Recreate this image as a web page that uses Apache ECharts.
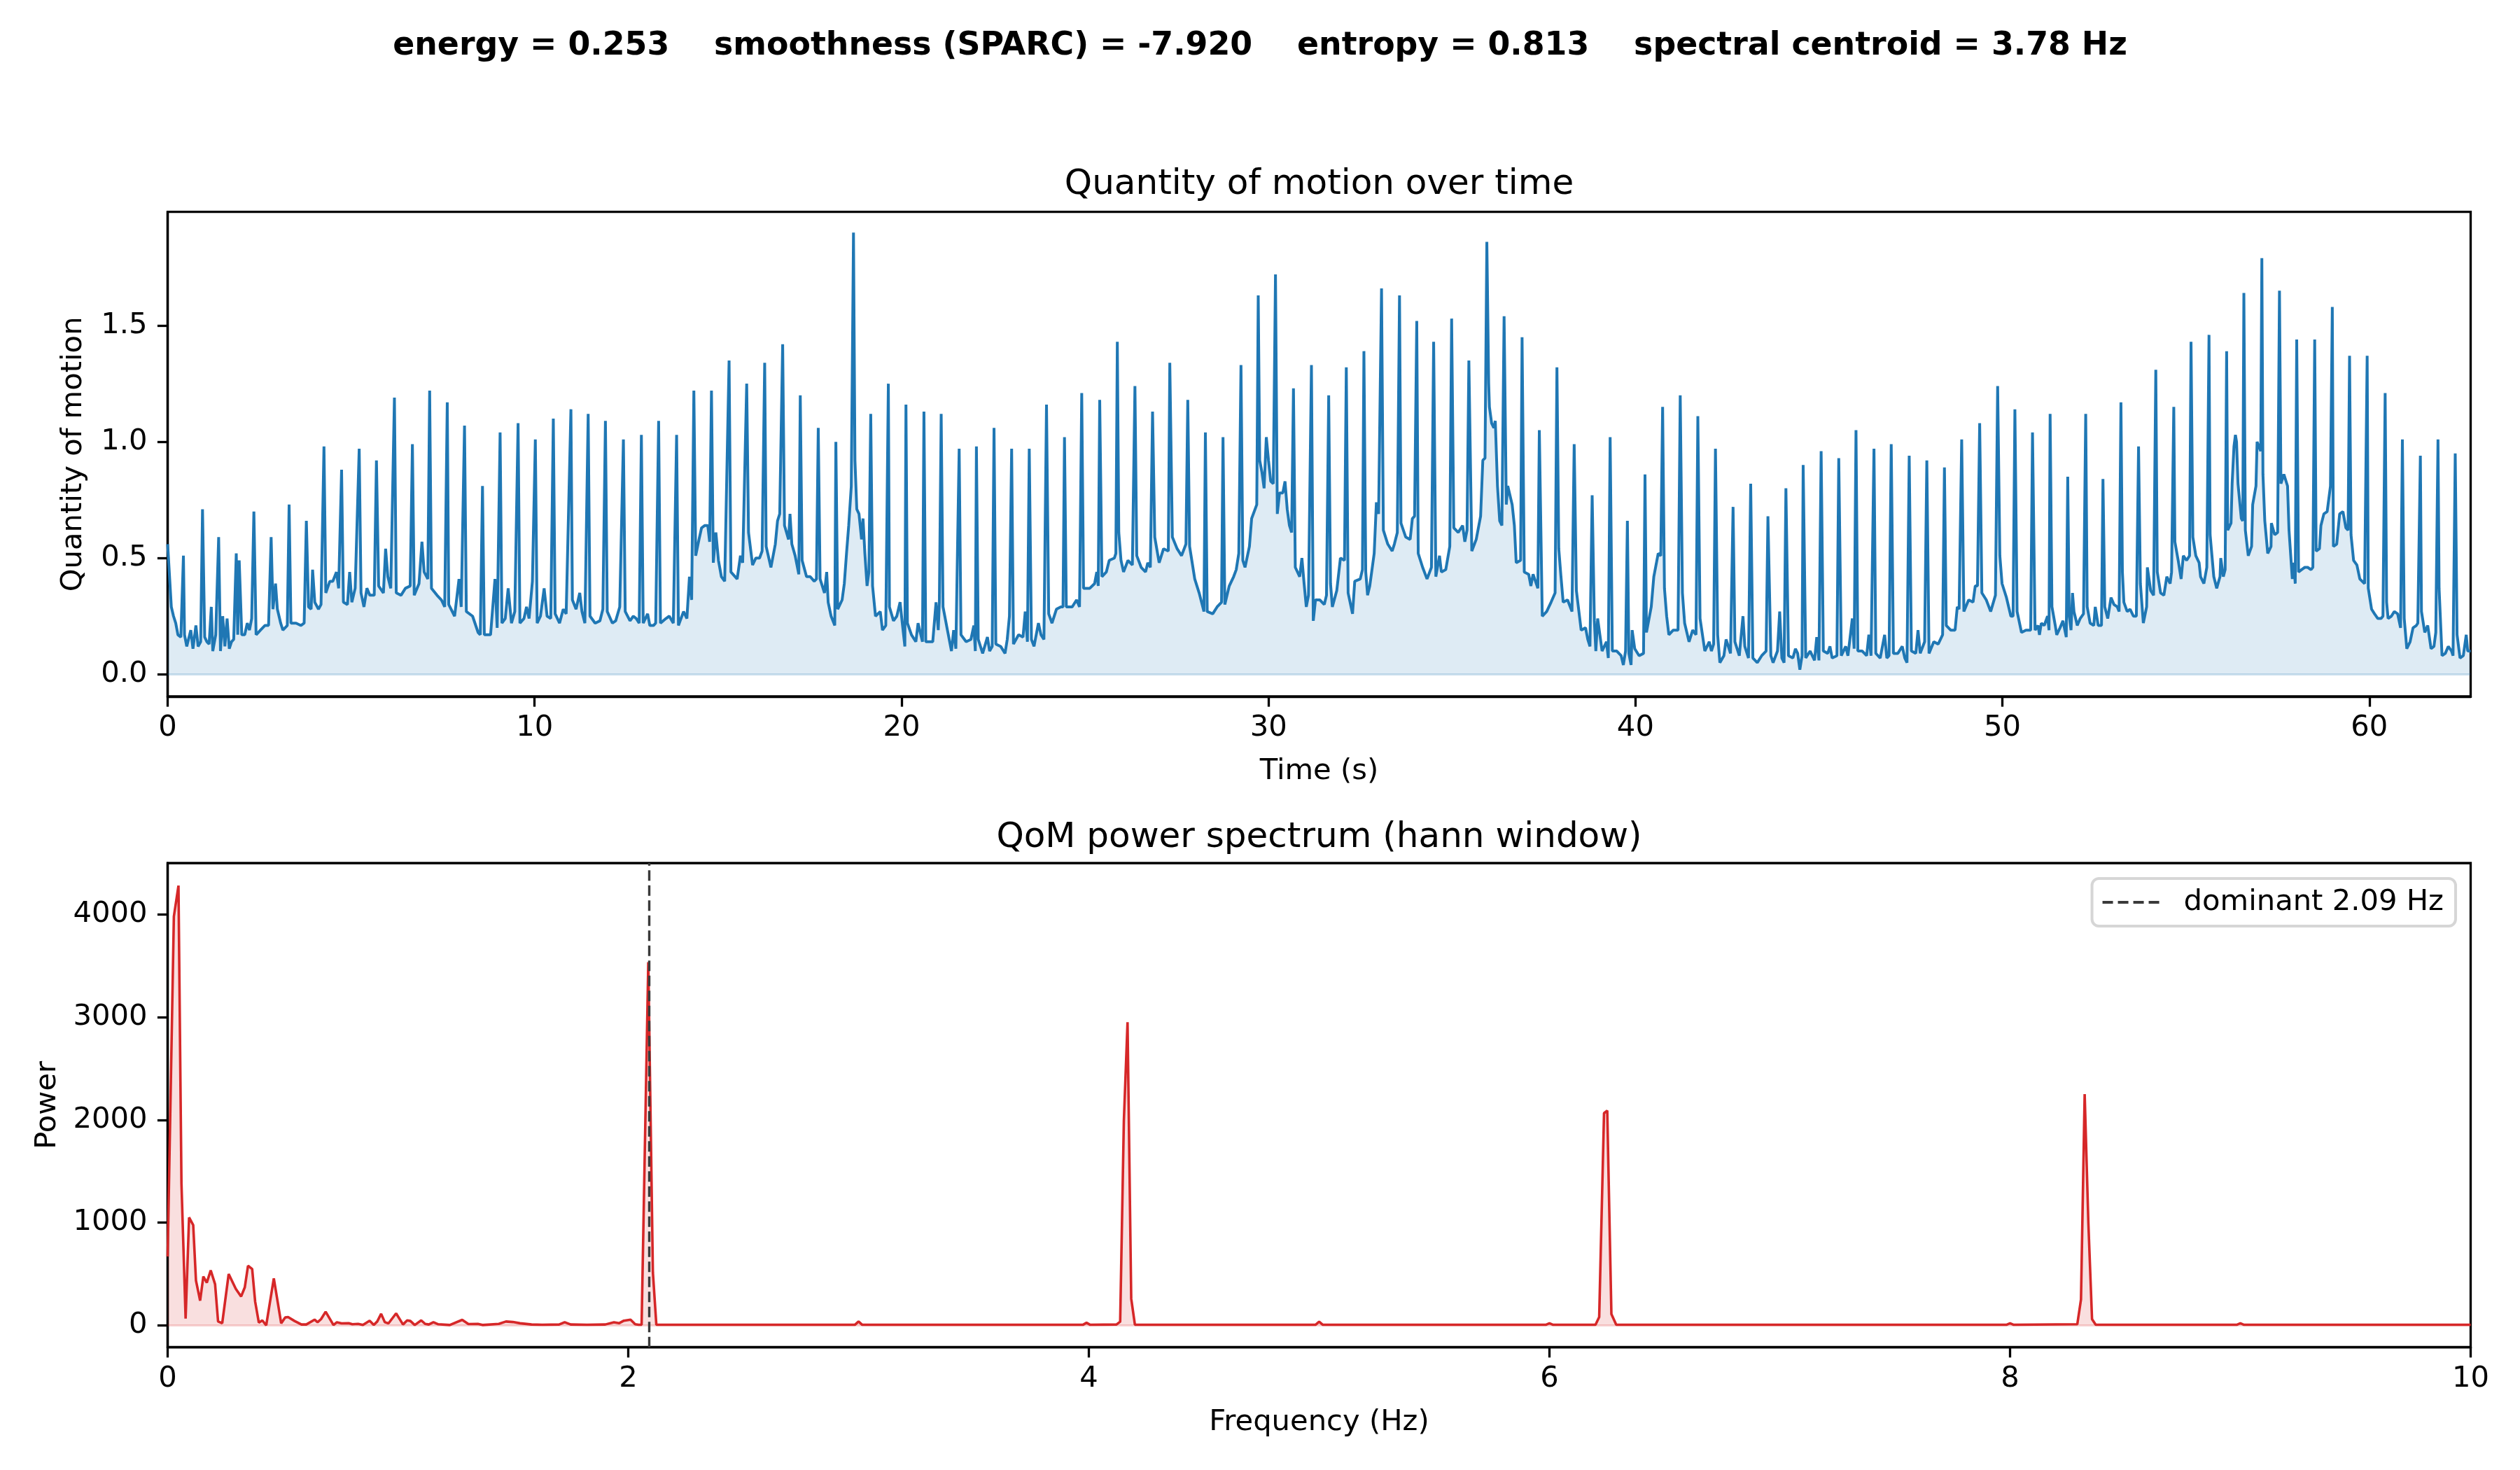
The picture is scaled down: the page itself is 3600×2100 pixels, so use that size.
<!DOCTYPE html>
<html>
<head>
<meta charset="utf-8">
<script src="https://cdn.jsdelivr.net/npm/echarts@6/dist/echarts.min.js"></script>
<style>
  html, body { margin: 0; padding: 0; background: #fff; }
  #chart { width: 3600px; height: 2100px; }
</style>
</head>
<body>
<div id="chart"></div>
<script>
// QoM over time: [time s, quantity of motion]
const qomPoints = [
  [0,0.56],[0.10,0.29],[0.16,0.25],[0.22,0.22],[0.28,0.17],[0.36,0.16],[0.43,0.51],[0.46,0.17],[0.52,0.12],[0.63,0.19],[0.69,0.11],[0.77,0.21],[0.83,0.12],[0.90,0.14],[0.95,0.71],[1.01,0.16],[1.07,0.14],[1.13,0.13],[1.19,0.29],[1.23,0.10],[1.31,0.17],[1.39,0.59],[1.44,0.10],[1.50,0.25],[1.56,0.12],[1.62,0.24],[1.68,0.11],[1.74,0.14],[1.80,0.15],[1.87,0.52],[1.91,0.17],[1.95,0.49],[2.02,0.17],[2.10,0.17],[2.17,0.22],[2.23,0.19],[2.29,0.24],[2.35,0.70],[2.41,0.17],[2.47,0.18],[2.53,0.19],[2.65,0.21],[2.75,0.21],[2.82,0.59],[2.87,0.28],[2.94,0.39],[2.99,0.28],[3.08,0.22],[3.14,0.19],[3.26,0.21],[3.31,0.73],[3.36,0.22],[3.50,0.22],[3.63,0.21],[3.72,0.22],[3.78,0.66],[3.84,0.29],[3.91,0.28],[3.95,0.45],[4.01,0.31],[4.11,0.28],[4.18,0.30],[4.26,0.98],[4.31,0.35],[4.42,0.40],[4.50,0.40],[4.60,0.44],[4.66,0.37],[4.74,0.88],[4.79,0.31],[4.90,0.30],[4.96,0.44],[5.02,0.31],[5.11,0.37],[5.22,0.97],[5.27,0.35],[5.35,0.29],[5.43,0.37],[5.51,0.34],[5.63,0.34],[5.69,0.92],[5.75,0.38],[5.88,0.35],[5.94,0.54],[6.00,0.42],[6.08,0.37],[6.18,1.19],[6.23,0.35],[6.36,0.34],[6.48,0.37],[6.61,0.38],[6.67,0.99],[6.72,0.34],[6.85,0.39],[6.93,0.57],[6.99,0.44],[7.09,0.41],[7.14,1.22],[7.19,0.37],[7.34,0.34],[7.46,0.32],[7.55,0.29],[7.62,1.17],[7.66,0.30],[7.82,0.25],[7.94,0.41],[8.00,0.29],[8.09,1.07],[8.14,0.27],[8.31,0.25],[8.46,0.18],[8.52,0.17],[8.58,0.81],[8.63,0.17],[8.80,0.17],[8.92,0.41],[8.98,0.20],[9.06,1.04],[9.11,0.22],[9.20,0.24],[9.28,0.37],[9.37,0.22],[9.46,0.27],[9.55,1.08],[9.60,0.22],[9.71,0.24],[9.78,0.29],[9.85,0.24],[9.94,0.40],
  [10.02,1.01],[10.07,0.22],[10.16,0.25],[10.26,0.37],[10.34,0.25],[10.44,0.24],[10.51,1.10],[10.56,0.26],[10.68,0.22],[10.78,0.28],[10.86,0.26],[10.99,1.14],[11.03,0.32],[11.13,0.28],[11.23,0.35],[11.29,0.27],[11.37,0.22],[11.46,1.12],[11.51,0.25],[11.65,0.22],[11.78,0.23],[11.86,0.28],[11.93,1.09],[11.98,0.27],[12.12,0.22],[12.21,0.23],[12.32,0.29],[12.42,1.01],[12.47,0.27],[12.60,0.23],[12.69,0.25],[12.77,0.24],[12.85,0.22],[12.91,1.03],[12.96,0.22],[13.08,0.26],[13.14,0.21],[13.24,0.21],[13.30,0.22],[13.38,1.09],[13.43,0.22],[13.58,0.24],[13.67,0.25],[13.78,0.22],[13.87,1.03],[13.92,0.21],[14.06,0.27],[14.15,0.24],[14.22,0.42],[14.28,0.32],[14.34,1.22],[14.39,0.51],[14.48,0.58],[14.55,0.63],[14.64,0.64],[14.72,0.64],[14.77,0.57],[14.82,1.22],[14.87,0.48],[14.94,0.61],[15.01,0.49],[15.09,0.42],[15.18,0.40],[15.30,1.35],[15.35,0.44],[15.52,0.41],[15.61,0.51],[15.67,0.48],[15.78,1.25],[15.83,0.61],[15.94,0.47],[16.03,0.50],[16.13,0.50],[16.20,0.53],[16.27,1.34],[16.31,0.55],
  [16.44,0.46],[16.56,0.56],[16.62,0.66],[16.68,0.69],[16.76,1.42],[16.81,0.64],[16.92,0.58],[16.96,0.69],[17.01,0.56],[17.10,0.51],[17.20,0.43],[17.24,1.20],[17.29,0.49],[17.41,0.42],[17.51,0.42],[17.62,0.40],[17.68,0.41],[17.73,1.06],[17.78,0.41],[17.90,0.35],[17.96,0.44],[18.00,0.31],[18.08,0.25],[18.18,0.21],[18.21,1.00],[18.26,0.28],[18.38,0.32],[18.44,0.39],[18.50,0.52],[18.56,0.64],[18.63,0.81],[18.69,1.90],[18.73,0.92],[18.78,0.71],[18.84,0.69],[18.91,0.58],[18.95,0.67],[19.00,0.52],[19.06,0.38],[19.11,0.44],[19.16,1.12],[19.21,0.38],[19.29,0.25],[19.42,0.27],[19.48,0.19],[19.57,0.21],[19.64,1.25],[19.67,0.29],[19.78,0.23],[19.87,0.25],[19.96,0.31],
  [20.02,0.22],[20.09,0.12],[20.12,1.16],[20.16,0.22],[20.27,0.17],[20.39,0.14],[20.45,0.22],[20.57,0.14],[20.61,1.13],[20.66,0.14],[20.79,0.14],[20.85,0.14],[20.94,0.31],[21.00,0.19],[21.03,0.31],[21.08,1.12],[21.13,0.29],[21.25,0.19],[21.36,0.10],[21.42,0.19],[21.48,0.11],[21.57,0.97],[21.62,0.17],[21.76,0.14],[21.89,0.15],[21.97,0.21],[22.01,0.10],[22.04,0.98],[22.09,0.15],[22.21,0.09],[22.34,0.16],[22.40,0.10],[22.47,0.12],[22.52,1.06],[22.57,0.13],[22.70,0.12],[22.82,0.09],[22.88,0.15],[22.94,0.25],[23.00,0.97],[23.05,0.13],[23.19,0.17],[23.31,0.16],[23.37,0.27],[23.43,0.14],[23.48,0.97],[23.54,0.15],[23.61,0.12],[23.73,0.22],[23.80,0.17],[23.88,0.15],[23.95,1.16],[24.01,0.26],[24.10,0.22],[24.22,0.28],[24.34,0.29],[24.40,0.29],[24.44,1.02],[24.49,0.29],[24.65,0.29],[24.77,0.32],[24.85,0.29],[24.91,1.21],[24.96,0.37],[25.13,0.37],[25.26,0.39],[25.32,0.44],[25.36,0.38],[25.40,1.18],[25.46,0.42],[25.58,0.44],[25.66,0.49],[25.80,0.50],[25.84,0.52],[25.88,1.43],[25.92,0.61],[25.98,0.49],[26.05,0.44],[26.17,0.49],[26.29,0.47],[26.36,1.24],[26.41,0.51],[26.53,0.46],[26.65,0.44],[26.71,0.48],[26.78,0.46],[26.84,1.13],[26.90,0.59],[27.02,0.48],[27.14,0.54],[27.27,0.53],[27.31,1.34],[27.38,0.59],[27.51,0.54],[27.63,0.51],[27.75,0.56],[27.80,1.18],[27.85,0.55],[27.99,0.41],[28.11,0.35],[28.24,0.27],[28.28,1.04],[28.33,0.27],[28.48,0.26],[28.60,0.29],[28.72,0.31],[28.76,1.02],[28.81,0.30],[28.93,0.38],[29.05,0.42],[29.12,0.45],[29.19,0.52],[29.25,1.33],[29.30,0.49],[29.36,0.46],[29.48,0.55],[29.54,0.67],[29.68,0.73],[29.72,1.63],[29.76,0.92],[29.82,0.87],[29.88,0.80],[29.94,1.02],
  [30.00,0.92],[30.06,0.83],[30.13,0.82],[30.19,1.72],[30.24,0.69],[30.30,0.78],[30.39,0.78],[30.45,0.83],[30.51,0.71],[30.57,0.64],[30.63,0.61],[30.68,1.23],[30.73,0.46],[30.85,0.42],[30.91,0.50],[30.97,0.39],[31.03,0.29],[31.09,0.34],[31.17,1.33],[31.22,0.23],[31.28,0.32],[31.40,0.32],[31.52,0.30],[31.58,0.34],[31.64,1.20],[31.69,0.39],[31.74,0.29],[31.86,0.36],[31.96,0.50],[32.07,0.49],[32.12,1.32],[32.17,0.35],[32.29,0.26],[32.35,0.40],[32.50,0.41],[32.56,0.45],[32.60,1.39],[32.65,0.44],[32.70,0.34],[32.76,0.38],[32.88,0.52],[32.94,0.74],[33.00,0.69],[33.08,1.66],[33.13,0.62],[33.25,0.56],[33.37,0.53],[33.43,0.56],[33.51,0.61],[33.57,1.63],[33.61,0.65],[33.74,0.59],[33.86,0.58],[33.92,0.67],[33.98,0.68],[34.04,1.52],
  [34.08,0.52],[34.20,0.46],[34.32,0.41],[34.44,0.46],[34.50,1.43],[34.56,0.42],[34.66,0.51],[34.71,0.44],[34.83,0.45],[34.94,0.55],[34.99,1.53],[35.05,0.63],[35.17,0.61],[35.29,0.64],[35.35,0.57],[35.41,0.62],[35.46,1.35],[35.54,0.53],[35.66,0.58],[35.78,0.68],[35.84,0.92],[35.90,0.93],[35.95,1.86],[36.00,1.25],[36.02,1.15],[36.08,1.08],[36.14,1.06],[36.18,1.09],[36.24,0.81],[36.30,0.66],[36.36,0.64],[36.42,1.54],[36.48,0.73],[36.52,0.81],[36.64,0.73],[36.70,0.64],[36.75,0.48],[36.87,0.49],[36.91,1.45],[36.97,0.44],[37.09,0.43],[37.15,0.38],[37.21,0.43],[37.34,0.37],[37.38,1.05],[37.46,0.25],[37.58,0.27],[37.70,0.31],[37.81,0.35],[37.86,1.32],[37.91,0.54],[37.97,0.42],[38.03,0.31],[38.15,0.32],[38.27,0.27],[38.33,0.99],[38.39,0.36],[38.52,0.19],[38.64,0.20],[38.70,0.15],[38.76,0.12],[38.82,0.77],[38.88,0.23],[38.92,0.10],[38.97,0.24],[39.09,0.10],[39.21,0.14],[39.26,0.07],[39.31,1.02],[39.37,0.10],[39.49,0.10],[39.61,0.08],[39.67,0.04],[39.73,0.10],[39.78,0.66],[39.82,0.09],[39.88,0.04],[39.91,0.19],[39.98,0.11],
  [40.10,0.08],[40.22,0.09],[40.26,0.86],[40.30,0.18],[40.43,0.29],[40.50,0.42],[40.62,0.52],[40.69,0.51],[40.74,1.15],[40.79,0.37],[40.85,0.25],[40.91,0.17],[41.03,0.19],[41.16,0.19],[41.22,1.20],[41.28,0.35],[41.34,0.22],[41.46,0.14],[41.56,0.19],[41.65,0.17],[41.70,1.11],[41.76,0.24],[41.89,0.10],[42.01,0.14],[42.07,0.10],[42.13,0.13],[42.18,0.97],[42.24,0.17],[42.30,0.05],[42.41,0.08],[42.47,0.15],[42.59,0.09],[42.66,0.72],[42.71,0.14],[42.83,0.08],[42.93,0.25],[42.98,0.12],[43.08,0.07],[43.14,0.82],[43.20,0.07],[43.32,0.05],[43.44,0.08],[43.56,0.10],[43.61,0.68],[43.69,0.08],[43.75,0.05],[43.87,0.10],[43.93,0.27],[43.99,0.07],[44.05,0.05],[44.10,0.80],[44.17,0.08],[44.29,0.07],[44.36,0.11],[44.42,0.09],[44.48,0.02],[44.54,0.08],[44.57,0.90],[44.64,0.07],[44.76,0.10],[44.88,0.06],[44.94,0.16],[45.00,0.06],[45.06,0.96],[45.12,0.10],[45.24,0.09],[45.30,0.12],[45.36,0.07],[45.49,0.08],[45.54,0.93],[45.61,0.08],[45.73,0.12],[45.79,0.08],[45.91,0.24],[45.96,0.11],[46.01,1.05],[46.06,0.10],[46.18,0.10],[46.30,0.08],[46.36,0.17],[46.42,0.08],[46.50,0.97],[46.55,0.09],[46.67,0.07],[46.79,0.17],[46.85,0.07],[46.91,0.08],[46.97,0.99],[47.03,0.09],[47.15,0.09],[47.27,0.12],[47.34,0.07],[47.40,0.05],[47.46,0.94],[47.52,0.10],[47.64,0.09],[47.70,0.19],[47.76,0.09],[47.88,0.14],[47.94,0.92],[48.00,0.09],[48.13,0.14],[48.25,0.13],[48.37,0.17],[48.42,0.89],[48.47,0.21],[48.59,0.19],[48.71,0.19],[48.77,0.29],[48.82,0.28],[48.89,1.01],[48.95,0.27],[49.08,0.32],[49.20,0.31],[49.26,0.38],[49.32,0.38],[49.38,1.08],[49.44,0.35],[49.56,0.32],[49.68,0.27],[49.81,0.34],[49.87,1.24],[49.93,0.51],[49.99,0.39],
  [50.11,0.33],[50.23,0.25],[50.29,0.25],[50.34,1.14],[50.40,0.27],[50.52,0.18],[50.64,0.19],[50.77,0.19],[50.82,1.04],[50.89,0.19],[50.97,0.21],[51.01,0.17],[51.06,0.22],[51.14,0.21],[51.23,0.25],[51.27,0.19],[51.30,1.12],[51.35,0.29],[51.44,0.21],[51.48,0.17],[51.57,0.20],[51.65,0.23],[51.74,0.16],[51.78,0.85],[51.82,0.25],[51.87,0.19],[51.91,0.35],[51.95,0.27],[52.04,0.21],[52.12,0.24],[52.21,0.26],[52.27,1.12],[52.31,0.29],[52.39,0.22],[52.49,0.21],[52.53,0.29],[52.61,0.21],[52.70,0.21],[52.74,0.84],[52.79,0.29],[52.87,0.24],[52.96,0.33],[53.04,0.30],[53.13,0.29],[53.18,0.27],[53.23,1.17],[53.27,0.44],[53.31,0.31],[53.40,0.27],[53.48,0.28],[53.57,0.25],[53.65,0.25],[53.71,0.98],[53.76,0.39],[53.84,0.22],[53.93,0.29],[53.95,0.46],[54.04,0.36],[54.12,0.34],[54.18,1.31],[54.22,0.44],[54.31,0.35],[54.40,0.34],[54.48,0.42],[54.57,0.39],[54.61,0.44],[54.67,1.15],[54.70,0.57],[54.79,0.49],[54.87,0.41],[54.93,0.51],[55.02,0.49],[55.10,0.51],[55.14,1.43],[55.19,0.59],[55.27,0.51],[55.36,0.48],[55.40,0.42],[55.49,0.39],[55.57,0.46],[55.63,1.46],[55.66,0.60],[55.76,0.42],[55.84,0.37],[55.93,0.42],[55.95,0.50],[56.02,0.42],[56.07,0.45],[56.11,1.39],[56.14,0.62],[56.23,0.65],[56.26,0.82],[56.31,0.98],[56.35,1.03],[56.38,1.00],[56.42,0.82],[56.51,0.67],[56.55,0.66],[56.58,1.64],[56.62,0.62],[56.70,0.51],[56.79,0.55],[56.82,0.73],[56.91,0.81],[56.94,1.00],[57.04,0.96],[57.07,1.79],[57.10,0.86],[57.15,0.66],[57.23,0.52],[57.32,0.55],[57.33,0.65],[57.42,0.60],[57.50,0.61],[57.55,1.65],[57.59,0.82],[57.67,0.86],[57.77,0.81],[57.81,0.62],[57.90,0.41],[57.94,0.48],[57.98,0.39],[58.02,1.44],[58.07,0.44],[58.15,0.45],[58.24,0.46],[58.32,0.46],[58.41,0.45],[58.46,0.46],[58.51,1.44],[58.55,0.53],[58.64,0.54],[58.68,0.64],[58.76,0.69],[58.85,0.70],[58.94,0.81],[58.99,1.58],[59.02,0.55],[59.11,0.56],[59.19,0.69],[59.28,0.70],[59.36,0.63],[59.42,0.62],[59.46,1.37],[59.50,0.60],[59.57,0.49],[59.66,0.47],[59.74,0.41],[59.87,0.39],[59.94,1.37],[59.97,0.37],
  [60.06,0.28],[60.14,0.26],[60.23,0.24],[60.32,0.24],[60.37,0.25],[60.43,1.21],[60.47,0.31],[60.51,0.24],[60.60,0.25],[60.68,0.27],[60.77,0.26],[60.85,0.20],[60.90,1.01],[60.95,0.24],[61.02,0.11],[61.11,0.14],[61.19,0.20],[61.28,0.21],[61.32,0.22],[61.39,0.94],[61.42,0.27],[61.51,0.18],[61.59,0.21],[61.68,0.11],[61.76,0.12],[61.81,0.18],[61.87,1.01],[61.90,0.37],[61.98,0.08],[62.07,0.09],[62.15,0.12],[62.24,0.10],[62.28,0.08],[62.34,0.95],[62.39,0.17],[62.47,0.07],[62.56,0.08],[62.64,0.17],[62.68,0.10],[62.76,0.10]
];

// power spectrum: [frequency Hz, power]
const spectrumPoints = [
  [0,670],[0.027,3980],[0.047,4280],[0.060,1380],[0.078,65],[0.093,1050],[0.111,975],[0.123,435],[0.141,240],[0.155,475],[0.170,415],[0.187,535],[0.206,400],[0.219,37],[0.237,21],[0.265,500],[0.296,355],[0.319,280],[0.335,370],[0.349,580],[0.367,548],[0.380,230],[0.396,26],[0.411,48],[0.428,0],[0.461,457],[0.493,19],[0.510,76],[0.523,80],[0.551,42],[0.581,8],[0.602,8],[0.638,55],[0.651,30],[0.666,60],[0.686,132],[0.720,3],[0.735,30],[0.755,19],[0.786,21],[0.802,10],[0.827,14],[0.848,3],[0.877,44],[0.895,3],[0.910,37],[0.927,112],[0.943,30],[0.959,19],[0.992,116],[1.022,8],[1.040,48],[1.054,42],[1.073,3],[1.101,48],[1.118,14],[1.134,8],[1.154,30],[1.175,10],[1.225,3],[1.279,53],[1.306,12],[1.347,14],[1.367,3],[1.438,14],[1.469,37],[1.499,32],[1.530,20],[1.580,8],[1.627,5],[1.700,8],[1.724,30],[1.750,8],[1.821,5],[1.900,8],[1.938,30],[1.960,20],[1.981,45],[2.010,55],[2.030,10],[2.045,5],[2.058,5],
  [2.087,3535],[2.107,515],[2.122,5],[2.500,5],[2.984,5],[3.000,37],[3.016,5],[3.500,5],[3.974,5],[3.990,25],[4.006,5],[4.120,8],[4.136,35],[4.152,1990],[4.168,2950],[4.184,260],[4.200,5],[4.600,5],[4.984,5],[5.000,35],[5.016,5],[5.500,5],[5.984,5],[6.000,20],[6.016,5],[6.200,5],[6.216,80],[6.237,2065],[6.251,2090],[6.269,110],[6.290,5],[7.000,5],[7.984,5],[8.000,20],[8.016,5],[8.292,10],[8.308,250],[8.324,2250],[8.340,1000],[8.356,60],[8.372,5],[8.984,5],[9.000,20],[9.016,5],[10,5]
];

const qomTicks = [0, 0.5, 1.0, 1.5];
const timeTicks = [0, 10, 20, 30, 40, 50, 60];
const powerTicks = [0, 1000, 2000, 3000, 4000];
const freqTicks = [0, 2, 4, 6, 8, 10];
const dominantHz = 2.09;
const summaryText = 'energy = 0.253    smoothness (SPARC) = -7.920    entropy = 0.813    spectral centroid = 3.78 Hz';

const FONT = 'DejaVu Sans';
const LW = 3.3;

function axisStyle(ticks, fmt, margin) {
  return {
    axisLine: { show: true, onZero: false, lineStyle: { color: '#000', width: LW } },
    axisTick: { show: true, inside: false, length: 14.6, customValues: ticks,
      lineStyle: { color: '#000', width: LW } },
    axisLabel: { show: true, customValues: ticks, formatter: fmt, margin: margin,
      color: '#000', fontFamily: FONT, fontSize: 41.7 },
    splitLine: { show: false },
    nameTextStyle: { color: '#000', fontFamily: FONT, fontSize: 41.7 },
  };
}

const chart = echarts.init(document.getElementById('chart'), null, { renderer: 'canvas' });

chart.setOption({
  animation: false,
  backgroundColor: '#fff',
  title: [
    { text: summaryText, left: 1800, top: 43, textAlign: 'center', padding: 0,
      textStyle: { fontFamily: FONT, fontSize: 45.8, fontWeight: 'bold', color: '#000' } },
    { text: 'Quantity of motion over time', left: 1884.5, top: 239, textAlign: 'center', padding: 0,
      textStyle: { fontFamily: FONT, fontSize: 50, fontWeight: 'normal', color: '#000' } },
    { text: 'QoM power spectrum (hann window)', left: 1884.5, top: 1172, textAlign: 'center', padding: 0,
      textStyle: { fontFamily: FONT, fontSize: 50, fontWeight: 'normal', color: '#000' } },
  ],
  grid: [
    { left: 239.5, top: 302.7, width: 3290, height: 692.3, show: true,
      borderColor: '#000', borderWidth: LW, backgroundColor: 'transparent', outerBoundsMode: 'none' },
    { left: 239.5, top: 1233, width: 3290, height: 691.7, show: true,
      borderColor: '#000', borderWidth: LW, backgroundColor: 'transparent', outerBoundsMode: 'none' },
  ],
  legend: {
    data: [{ name: 'dominant 2.09 Hz',
      icon: 'path://M0,0H15V4H0Z M22,0H37V4H22Z M44,0H59V4H44Z M66,0H81V4H66Z' }],
    right: 92, top: 1255,
    padding: [13, 17, 13, 15],
    itemWidth: 83, itemHeight: 4,
    backgroundColor: 'rgba(255,255,255,0.8)',
    borderColor: '#d6d6d6', borderWidth: 4, borderRadius: 10,
    selectedMode: false,
    textStyle: { fontFamily: FONT, fontSize: 41.7, color: '#000', padding: [0, 0, 0, 29] },
  },
  xAxis: [
    Object.assign(axisStyle(timeTicks, (v) => String(v), 24), {
      type: 'value', gridIndex: 0, min: 0, max: 62.76,
      name: 'Time (s)', nameLocation: 'middle', nameGap: 86,
    }),
    Object.assign(axisStyle(freqTicks, (v) => String(v), 24), {
      type: 'value', gridIndex: 1, min: 0, max: 10,
      name: 'Frequency (Hz)', nameLocation: 'middle', nameGap: 86,
    }),
  ],
  yAxis: [
    Object.assign(axisStyle(qomTicks, (v) => v.toFixed(1), 29), {
      type: 'value', gridIndex: 0, min: -0.0955, max: 1.989,
      name: 'Quantity of motion', nameLocation: 'middle', nameGap: 113, nameRotate: 90,
    }),
    Object.assign(axisStyle(powerTicks, (v) => String(v), 29), {
      type: 'value', gridIndex: 1, min: -214, max: 4499,
      name: 'Power', nameLocation: 'middle', nameGap: 150, nameRotate: 90,
    }),
  ],
  series: [
    {
      name: 'QoM', type: 'line', xAxisIndex: 0, yAxisIndex: 0,
      data: qomPoints, showSymbol: false, sampling: 'none', clip: true,
      lineStyle: { color: '#1f77b4', width: 4 },
      itemStyle: { color: '#1f77b4' },
      areaStyle: { color: '#1f77b4', opacity: 0.15, origin: 0 },
      markLine: { silent: true, symbol: 'none', label: { show: false },
        lineStyle: { color: 'rgba(31,119,180,0.22)', width: 3, type: 'solid' },
        data: [{ yAxis: 0 }] },
      z: 3,
    },
    {
      name: 'spectrum', type: 'line', xAxisIndex: 1, yAxisIndex: 1,
      data: spectrumPoints, showSymbol: false, sampling: 'none', clip: true,
      lineStyle: { color: '#d62728', width: 3.6 },
      itemStyle: { color: '#d62728' },
      areaStyle: { color: '#d62728', opacity: 0.15, origin: 0 },
      markLine: { silent: true, symbol: 'none', label: { show: false },
        lineStyle: { color: 'rgba(214,39,40,0.2)', width: 3, type: 'solid' },
        data: [{ yAxis: 0 }] },
      z: 3,
    },
    {
      name: 'dominant 2.09 Hz', type: 'line', xAxisIndex: 1, yAxisIndex: 1,
      data: [], showSymbol: false,
      lineStyle: { color: '#3a3a3a', width: 3.4, type: [15, 6.5] },
      itemStyle: { color: '#3a3a3a' },
      markLine: { silent: true, symbol: 'none', label: { show: false },
        lineStyle: { color: '#3a3a3a', width: 3.4, type: [15, 6.5] },
        data: [{ xAxis: dominantHz }] },
      z: 5,
    },
  ],
});
</script>
</body>
</html>
